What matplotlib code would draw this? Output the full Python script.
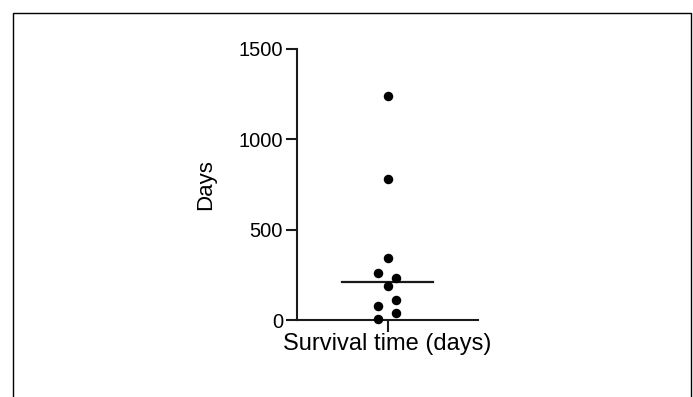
import matplotlib.pyplot as plt
import numpy as np
from matplotlib.patches import Rectangle

plt.rcParams['font.family'] = ['Liberation Sans', 'DejaVu Sans']

# survival times (days)
survival = [1240, 779, 345, 258, 234, 188, 111, 77, 40, 4]
# horizontal jitter of each dot within the column
jitter = [0.0, 0.0, 0.0, -0.1, 0.09, 0.0, 0.09, -0.1, 0.09, -0.1]
category = ['Survival time (days)']
yticks = [0, 500, 1000, 1500]

ink = '#1a1a1a'

fig = plt.figure(figsize=(6.93, 3.97), dpi=100)
ax = fig.add_axes([297 / 693, 1 - 320 / 397, 181 / 693, 271 / 397])

ax.scatter(np.array(jitter), survival, s=34, color='black', zorder=3, clip_on=False)
med = np.median(survival)
ax.plot([-0.5, 0.5], [med, med], color=ink, lw=1.6)

ax.set_xlim(-1.0, 1.0)
ax.set_ylim(0, 1500)
ax.set_xticks([0])
ax.set_xticklabels(category, fontsize=17)
ax.set_yticks(yticks)
ax.set_yticklabels([str(t) for t in yticks], fontsize=14.5)
ax.set_ylabel('Days', fontsize=16, labelpad=16)

for side in ['top', 'right']:
    ax.spines[side].set_visible(False)
for side in ['left', 'bottom']:
    ax.spines[side].set_linewidth(1.5)
    ax.spines[side].set_color(ink)
ax.tick_params(axis='y', length=8, width=1.5, color=ink, pad=2)
ax.tick_params(axis='x', length=8.5, width=1.5, color=ink, pad=1)

# outer frame around the panel
fig.patches.append(Rectangle((13 / 693, -0.1), (691 - 13) / 693, 1.1 - 13 / 397,
                             transform=fig.transFigure, fill=False,
                             edgecolor='black', lw=1.0))

fig.savefig('out.png', dpi=100)
